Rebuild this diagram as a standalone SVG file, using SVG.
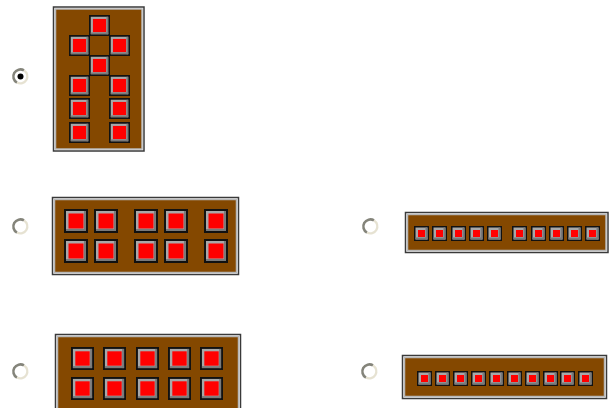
<svg xmlns="http://www.w3.org/2000/svg" xmlns:xlink="http://www.w3.org/1999/xlink" width="610" height="408" viewBox="0 0 610 408">
<style>
.panel-out{fill:none;stroke:#3a3a3a;stroke-width:1.5}
.panel-in{fill:#844800;stroke:#b8b8b8;stroke-width:1.5}
.rb-bg{fill:#ffffff}
.rb-dark{fill:none;stroke:#84847a;stroke-width:2.6}
.rb-light{fill:none;stroke:#e6e2d2;stroke-width:2.2}
</style>
<defs>
<symbol id="sq" viewBox="0 0 24 24">
<rect x="0" y="0" width="24" height="24" fill="#111"/>
<rect x="2" y="2" width="20" height="20" fill="#a8a8a8"/>
<rect x="2" y="20" width="20" height="2" fill="#7a7a7a"/>
<rect x="20" y="2" width="2" height="20" fill="#7a7a7a"/>
<rect x="4.5" y="4.5" width="15" height="15" fill="#ff0000"/>
</symbol>
<symbol id="sqs" viewBox="0 0 15 15">
<rect x="0" y="0" width="15" height="15" fill="#111"/>
<rect x="1.5" y="1.5" width="12" height="12" fill="#a8a8a8"/>
<rect x="1.5" y="11.5" width="12" height="2" fill="#7a7a7a"/>
<rect x="11.5" y="1.5" width="2" height="12" fill="#7a7a7a"/>
<rect x="4" y="4" width="7" height="7" fill="#ff0000"/>
</symbol>
<g id="radio">
<circle class="rb-bg" cx="0" cy="0" r="7"/>
<path class="rb-dark" d="M 3.5 -6.06 A 7 7 0 1 0 -3.5 6.06"/>
<path class="rb-light" d="M -3.5 6.06 A 7 7 0 0 0 3.5 -6.06"/>
</g>
</defs>

<g id="radios">
<g id="radio1" transform="translate(20.5,76.5)"><use href="#radio"/><circle cx="0" cy="0" r="3" fill="#000"/></g>
<use id="radio2" href="#radio" transform="translate(20.5,226.5)"/>
<use id="radio3" href="#radio" transform="translate(370.5,226.5)"/>
<use id="radio4" href="#radio" transform="translate(20.5,371.5)"/>
<use id="radio5" href="#radio" transform="translate(369.5,371.5)"/>
</g>

<g id="panel1">
<rect class="panel-out" x="53.5" y="7" width="90.5" height="144"/>
<rect class="panel-in" x="55.5" y="9" width="86.5" height="140"/>
<use href="#sq" x="89" y="15" width="21" height="21"/>
<use href="#sq" x="69" y="35" width="21" height="21"/>
<use href="#sq" x="109" y="35" width="21" height="21"/>
<use href="#sq" x="89" y="55" width="21" height="21"/>
<use href="#sq" x="69" y="75" width="21" height="21"/>
<use href="#sq" x="109" y="75" width="21" height="21"/>
<use href="#sq" x="69" y="98" width="21" height="21"/>
<use href="#sq" x="109" y="98" width="21" height="21"/>
<use href="#sq" x="69" y="122" width="21" height="21"/>
<use href="#sq" x="109" y="122" width="21" height="21"/>
</g>

<g id="panel2">
<rect class="panel-out" x="52.5" y="197.5" width="186" height="77"/>
<rect class="panel-in" x="54.5" y="199.5" width="182" height="73"/>
<use href="#sq" x="64" y="209" width="24" height="24"/>
<use href="#sq" x="94" y="209" width="24" height="24"/>
<use href="#sq" x="134" y="209" width="24" height="24"/>
<use href="#sq" x="164" y="209" width="24" height="24"/>
<use href="#sq" x="204" y="209" width="24" height="24"/>
<use href="#sq" x="64" y="239" width="24" height="24"/>
<use href="#sq" x="94" y="239" width="24" height="24"/>
<use href="#sq" x="134" y="239" width="24" height="24"/>
<use href="#sq" x="164" y="239" width="24" height="24"/>
<use href="#sq" x="204" y="239" width="24" height="24"/>
</g>

<g id="panel3">
<rect class="panel-out" x="405.5" y="212.5" width="202.5" height="40"/>
<rect class="panel-in" x="407.5" y="214.5" width="198.5" height="36"/>
<use href="#sqs" x="414" y="226" width="15" height="15"/>
<use href="#sqs" x="432" y="226" width="15" height="15"/>
<use href="#sqs" x="451" y="226" width="15" height="15"/>
<use href="#sqs" x="469" y="226" width="15" height="15"/>
<use href="#sqs" x="487" y="226" width="15" height="15"/>
<use href="#sqs" x="512" y="226" width="15" height="15"/>
<use href="#sqs" x="531" y="226" width="15" height="15"/>
<use href="#sqs" x="549" y="226" width="15" height="15"/>
<use href="#sqs" x="567" y="226" width="15" height="15"/>
<use href="#sqs" x="585" y="226" width="15" height="15"/>
</g>

<g id="panel4">
<rect class="panel-out" x="55.5" y="334.5" width="185" height="90"/>
<rect class="panel-in" x="57.5" y="336.5" width="181" height="86"/>
<use href="#sq" x="71" y="347" width="23" height="23"/>
<use href="#sq" x="103" y="347" width="23" height="23"/>
<use href="#sq" x="136" y="347" width="23" height="23"/>
<use href="#sq" x="168" y="347" width="23" height="23"/>
<use href="#sq" x="200" y="347" width="23" height="23"/>
<use href="#sq" x="71" y="377" width="23" height="23"/>
<use href="#sq" x="103" y="377" width="23" height="23"/>
<use href="#sq" x="136" y="377" width="23" height="23"/>
<use href="#sq" x="168" y="377" width="23" height="23"/>
<use href="#sq" x="200" y="377" width="23" height="23"/>
</g>

<g id="panel5">
<rect class="panel-out" x="402.5" y="355.5" width="204" height="43"/>
<rect class="panel-in" x="404.5" y="357.5" width="200" height="39"/>
<use href="#sqs" x="417" y="371" width="15" height="15"/>
<use href="#sqs" x="435" y="371" width="15" height="15"/>
<use href="#sqs" x="453" y="371" width="15" height="15"/>
<use href="#sqs" x="471" y="371" width="15" height="15"/>
<use href="#sqs" x="489" y="371" width="15" height="15"/>
<use href="#sqs" x="507" y="371" width="15" height="15"/>
<use href="#sqs" x="525" y="371" width="15" height="15"/>
<use href="#sqs" x="543" y="371" width="15" height="15"/>
<use href="#sqs" x="560" y="371" width="15" height="15"/>
<use href="#sqs" x="578" y="371" width="15" height="15"/>
</g>
</svg>
